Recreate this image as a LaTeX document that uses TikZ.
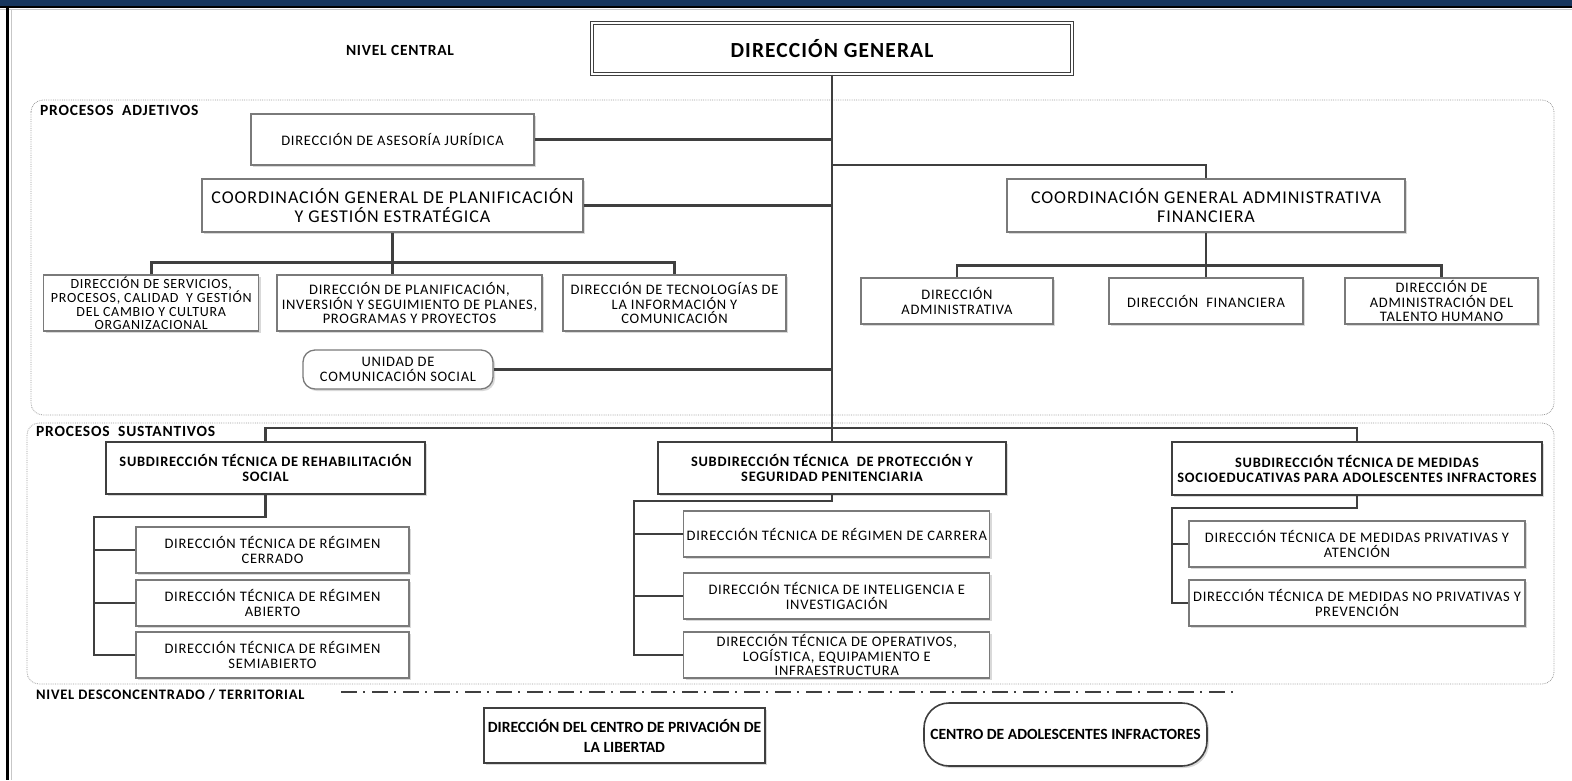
\documentclass[tikz,border=0pt]{standalone}
\usepackage{fontspec}
\setmainfont{Carlito}[LetterSpace=5]
\newfontfamily\narrowfont{Carlito}
\usetikzlibrary{shadows}

\definecolor{navybar}{HTML}{17365D}
\definecolor{linegray}{HTML}{3F3F3F}
\definecolor{boxgray}{HTML}{7A7A7A}
\definecolor{zonegray}{HTML}{9C9C9C}

\begin{document}
\begin{tikzpicture}[x=1pt,y=-1pt,
	box/.style={draw=boxgray,line width=1.3pt,fill=white,inner sep=0pt,align=center,
		font=\fontsize{14.5}{14.3}\selectfont,
		drop shadow={shadow xshift=2pt,shadow yshift=-2pt,opacity=.25,fill=black!60}},
	bigbox/.style={box,font=\fontsize{18}{19}\selectfont},
	subbox/.style={box,draw=linegray,line width=2.2pt,font=\bfseries\fontsize{14.4}{15}\selectfont},
	topbox/.style={box,draw=linegray,line width=1.1pt,double=white,double distance=2.6pt,font=\bfseries\fontsize{21.5}{24}\selectfont},
	localbox/.style={box,draw=linegray,line width=1.6pt,font=\narrowfont\bfseries\fontsize{15.6}{20}\selectfont},
	link/.style={draw=linegray,line width=2.4pt},
	zone/.style={draw=zonegray,densely dotted,line width=0.8pt,rounded corners=12pt},
	tag/.style={font=\bfseries\fontsize{15.5}{17}\selectfont,inner sep=0pt},
	dashdot/.style={draw=linegray,line width=1.6pt,dash pattern=on 16pt off 6pt on 2pt off 7pt}]
	\useasboundingbox (0,0) rectangle (1572,780);

	% frame of the page
	\fill[navybar] (0,0) rectangle (1572,5.5);
	\draw[black,line width=2.5pt] (0,6.8) -- (1572,6.8);
	\draw[black!22,line width=1pt] (0,9.5) -- (1572,9.5);
	\draw[black,line width=3.2pt] (7.6,5.5) -- (7.6,780);
	\draw[black!22,line width=1pt] (11,9.5) -- (11,780);

	% zones
	\draw[zone] (31,100) rectangle (1554,415);
	\draw[zone] (27,423) rectangle (1554,684);
	\node[tag] (nc) at (400,50) {NIVEL CENTRAL};
	\node[tag,anchor=west] (adj) at (40,110) {PROCESOS\ \ ADJETIVOS};
	\node[tag,anchor=west] (sus) at (36,431) {PROCESOS\ \ SUSTANTIVOS};
	\node[tag,anchor=west,font=\bfseries\fontsize{14.5}{17}\selectfont] (ndt) at (36,695) {NIVEL DESCONCENTRADO / TERRITORIAL};
	\coordinate (dd1) at (341,692);
	\coordinate (dd2) at (1233,692);
	\draw[dashdot] (dd1) -- (dd2);

	% nivel central
	\node[topbox,minimum width=480pt,minimum height=51pt] (dg) at (832,48.5) {DIRECCIÓN GENERAL};
	\node[box,minimum width=283pt,minimum height=51pt] (aj) at (392.5,139.5) {DIRECCIÓN DE ASESORÍA JURÍDICA};
	\node[bigbox,minimum width=381pt,minimum height=53pt] (cgp) at (392.5,205.5) {COORDINACIÓN GENERAL DE PLANIFICACIÓN\\Y GESTIÓN ESTRATÉGICA};
	\node[bigbox,minimum width=398pt,minimum height=53pt] (cga) at (1206,205.5) {COORDINACIÓN GENERAL ADMINISTRATIVA\\FINANCIERA};
	\node[box,font=\fontsize{14}{13.4}\selectfont,minimum width=215pt,minimum height=56pt] (ds) at (151.3,303) {DIRECCIÓN DE SERVICIOS,\\PROCESOS, CALIDAD\ \ Y GESTIÓN\\DEL CAMBIO Y CULTURA\\ORGANIZACIONAL};
	\node[box,minimum width=265pt,minimum height=56pt] (dp) at (409.5,303) {DIRECCIÓN DE PLANIFICACIÓN,\\INVERSIÓN Y SEGUIMIENTO DE PLANES,\\PROGRAMAS Y PROYECTOS};
	\node[box,minimum width=223pt,minimum height=56pt] (dt) at (674.5,303) {DIRECCIÓN DE TECNOLOGÍAS DE\\LA INFORMACIÓN Y\\COMUNICACIÓN};
	\node[box,rounded corners=12pt,minimum width=190pt,minimum height=39pt] (ucs) at (398,369.5) {UNIDAD DE\\COMUNICACIÓN SOCIAL};
	\node[box,minimum width=192pt,minimum height=46pt] (da) at (957,301) {DIRECCIÓN\\ADMINISTRATIVA};
	\node[box,minimum width=194pt,minimum height=46pt] (df) at (1206,301) {DIRECCIÓN\ \ FINANCIERA};
	\node[box,minimum width=193pt,minimum height=46pt] (dth) at (1441.5,301) {DIRECCIÓN DE\\ADMINISTRACIÓN DEL\\TALENTO HUMANO};

	% procesos sustantivos
	\node[subbox,minimum width=319pt,minimum height=52pt] (strs) at (265.5,468) {SUBDIRECCIÓN TÉCNICA DE REHABILITACIÓN\\SOCIAL};
	\node[subbox,minimum width=348pt,minimum height=52pt] (stps) at (832,468) {SUBDIRECCIÓN TÉCNICA\ \ DE PROTECCIÓN Y\\SEGURIDAD PENITENCIARIA};
	\node[subbox,minimum width=370pt,minimum height=53pt] (stms) at (1357,468.5) {SUBDIRECCIÓN TÉCNICA DE MEDIDAS\\SOCIOEDUCATIVAS PARA ADOLESCENTES INFRACTORES};
	\node[box,minimum width=273pt,minimum height=46pt] (rc) at (272.5,550) {DIRECCIÓN TÉCNICA DE RÉGIMEN\\CERRADO};
	\node[box,minimum width=273pt,minimum height=46pt] (ra) at (272.5,603) {DIRECCIÓN TÉCNICA DE RÉGIMEN\\ABIERTO};
	\node[box,minimum width=273pt,minimum height=46pt] (rs) at (272.5,655) {DIRECCIÓN TÉCNICA DE RÉGIMEN\\SEMIABIERTO};
	\node[box,minimum width=306pt,minimum height=46pt] (car) at (836.8,534) {DIRECCIÓN TÉCNICA DE RÉGIMEN DE CARRERA};
	\node[box,minimum width=306pt,minimum height=46pt] (int) at (836.8,596) {DIRECCIÓN TÉCNICA DE INTELIGENCIA E\\INVESTIGACIÓN};
	\node[box,minimum width=306pt,minimum height=46pt] (ope) at (836.8,655) {DIRECCIÓN TÉCNICA DE OPERATIVOS,\\LOGÍSTICA, EQUIPAMIENTO E\\INFRAESTRUCTURA};
	\node[box,minimum width=336pt,minimum height=46pt] (mp) at (1357,544) {DIRECCIÓN TÉCNICA DE MEDIDAS PRIVATIVAS Y\\ATENCIÓN};
	\node[box,minimum width=336pt,minimum height=46pt] (mnp) at (1357,603) {DIRECCIÓN TÉCNICA DE MEDIDAS NO PRIVATIVAS Y\\PREVENCIÓN};

	% nivel desconcentrado
	\node[localbox,minimum width=281pt,minimum height=55pt] (dcpl) at (624.5,735.5) {DIRECCIÓN DEL CENTRO DE PRIVACIÓN DE\\LA LIBERTAD};
	\node[localbox,rounded corners=25pt,minimum width=283pt,minimum height=63pt] (cai) at (1065.5,734.5) {CENTRO DE ADOLESCENTES INFRACTORES};

	% lines
	\coordinate (jcga) at (832,165);
	\coordinate (lrs) at (94,517);
	\coordinate (lps) at (634,501);
	\coordinate (lms) at (1172,508);
	\draw[link] (dg.south) -- (stps.north);
	\draw[link] (aj.east) -- (aj.east -| dg.south);
	\draw[link] (cgp.east) -- (cgp.east -| dg.south);
	\draw[link] (ucs.east) -- (ucs.east -| dg.south);
	\draw[link] (jcga) -| (cga.north);
	\draw[link] (cgp.south) -- (cgp.south |- dp.north);
	\draw[link] (ds.north) -- ++(0,-12) -| (dt.north);
	\draw[link] (cga.south) -- (df.north);
	\draw[link] (da.north) -- ++(0,-12) -| (dth.north);
	\draw[link] (strs.north) -- ++(0,-13) -| (stms.north);
	\draw[link] (strs.south) |- (lrs) |- (rs.west);
	\draw[link] (lrs |- rc.west) -- (rc.west);
	\draw[link] (lrs |- ra.west) -- (ra.west);
	\draw[link] (stps.south) |- (lps) |- (ope.west);
	\draw[link] (lps |- car.west) -- (car.west);
	\draw[link] (lps |- int.west) -- (int.west);
	\draw[link] (stms.south) |- (lms) |- (mnp.west);
	\draw[link] (lms |- mp.west) -- (mp.west);
\end{tikzpicture}
\end{document}
